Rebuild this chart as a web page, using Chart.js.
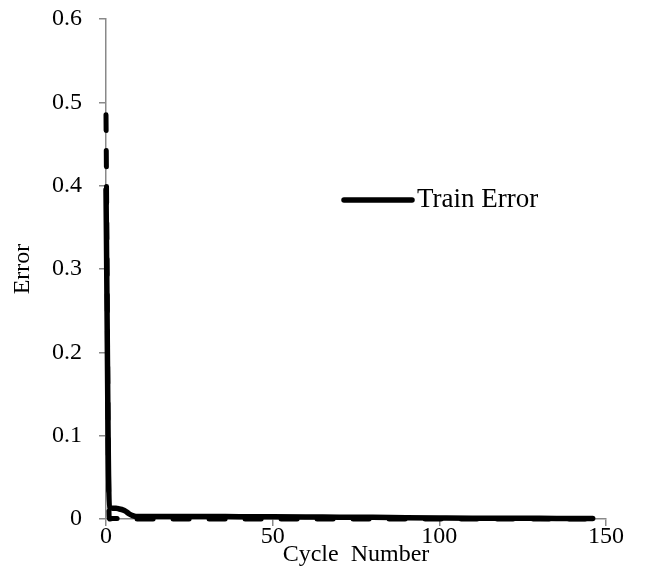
<!DOCTYPE html>
<html>
<head>
<meta charset="utf-8">
<script src="https://cdn.jsdelivr.net/npm/chart.js@4.4.1/dist/chart.umd.min.js"></script>
<style>
    html, body { margin: 0; padding: 0; background: #fff; }
    canvas { display: block; }
</style>
</head>
<body>
<canvas id="errorChart" width="671" height="569"></canvas>
<script>
// cycle numbers and error values
const cycles = [0, 1, 2, 3, 4, 5, 6, 7, 8, 9, 10, 15, 20, 30, 40, 50, 60, 70, 80, 90, 100, 110, 120, 130, 140, 146];
const trainError = [0.395, 0.014, 0.013, 0.013, 0.012, 0.011, 0.009, 0.006, 0.004, 0.003, 0.003, 0.003, 0.003, 0.003, 0.0028, 0.0027, 0.0025, 0.0022, 0.002, 0.0015, 0.0012, 0.001, 0.001, 0.0008, 0.0007, 0.0006];
const testError = [0.485, 0.0, 0.0005, 0.0005, 0.0005, 0.0004, 0.0003, 0.0002, 0.0001, 0.0, 0.0, 0.0, 0.0, 0.0, 0.0, 0.0, 0.0, 0.0, 0.0, 0.0, 0.0, 0.0, 0.0, 0.0, 0.0, 0.0];
const xTicks = [0, 50, 100, 150];
const yTicks = [0, 0.1, 0.2, 0.3, 0.4, 0.5, 0.6];

const AXIS_GREY = '#898989';
const FONT = "'Liberation Serif', 'Times New Roman', serif";

const toPoints = (ys) => cycles.map((c, i) => ({ x: c, y: ys[i] }));

// legend drawn inside the plot, only the train series is listed
const insideLegend = {
    id: 'insideLegend',
    afterDraw(chart) {
        const { ctx, chartArea } = chart;
        const ds = chart.data.datasets[1];
        const x0 = chartArea.left + 238;
        const y0 = chartArea.top + 181;
        ctx.save();
        ctx.strokeStyle = ds.borderColor;
        ctx.lineWidth = ds.borderWidth;
        ctx.lineCap = 'round';
        ctx.beginPath();
        ctx.moveTo(x0, y0);
        ctx.lineTo(x0 + 68, y0);
        ctx.stroke();
        ctx.fillStyle = '#000';
        ctx.font = `27px ${FONT}`;
        ctx.textBaseline = 'middle';
        ctx.fillText(ds.label, x0 + 73, y0);
        ctx.restore();
    }
};

new Chart(document.getElementById('errorChart'), {
    type: 'line',
    data: {
        datasets: [
            {
                label: 'Test Error',
                data: toPoints(testError),
                borderColor: '#000',
                borderWidth: 5,
                borderDash: [16, 20],
                borderCapStyle: 'round',
                pointRadius: 0,
                clip: false,
                cubicInterpolationMode: 'monotone'
            },
            {
                label: 'Train Error',
                data: toPoints(trainError),
                borderColor: '#000',
                borderWidth: 5.5,
                borderCapStyle: 'round',
                pointRadius: 0,
                clip: false,
                cubicInterpolationMode: 'monotone'
            }
        ]
    },
    options: {
        responsive: false,
        animation: false,
        layout: { padding: { top: 19, right: 65, bottom: 0, left: 0 } },
        plugins: {
            legend: { display: false },
            tooltip: { enabled: false }
        },
        scales: {
            x: {
                type: 'linear',
                min: 0,
                max: 150,
                afterBuildTicks: (axis) => { axis.ticks = xTicks.map(v => ({ value: v })); },
                afterFit: (axis) => {
                    axis.height = 50;
                    axis.paddingLeft = 0;
                    axis.paddingRight = 0;
                },
                border: { color: AXIS_GREY, width: 1.5 },
                grid: { drawOnChartArea: false, color: AXIS_GREY, tickLength: 7, lineWidth: 1.5 },
                ticks: { color: '#000', font: { family: FONT, size: 24 }, padding: -4, maxRotation: 0 },
                title: {
                    display: true,
                    text: 'Cycle  Number',
                    color: '#000',
                    font: { family: FONT, size: 24 },
                    padding: { top: 0, bottom: 0 }
                }
            },
            y: {
                min: 0,
                max: 0.6,
                afterBuildTicks: (axis) => { axis.ticks = yTicks.map(v => ({ value: v })); },
                afterFit: (axis) => {
                    axis.width = 106;
                    axis.paddingTop = 0;
                    axis.paddingBottom = 0;
                },
                border: { color: AXIS_GREY, width: 1.5 },
                grid: { drawOnChartArea: false, color: AXIS_GREY, tickLength: 7, lineWidth: 1.5 },
                ticks: {
                    color: '#000',
                    font: { family: FONT, size: 24 },
                    padding: 17,
                    callback: (v) => String(Math.round(v * 10) / 10)
                },
                title: {
                    display: true,
                    text: 'Error',
                    color: '#000',
                    font: { family: FONT, size: 24 },
                    padding: { top: 8, bottom: 0 }
                }
            }
        }
    },
    plugins: [insideLegend]
});
</script>
</body>
</html>
